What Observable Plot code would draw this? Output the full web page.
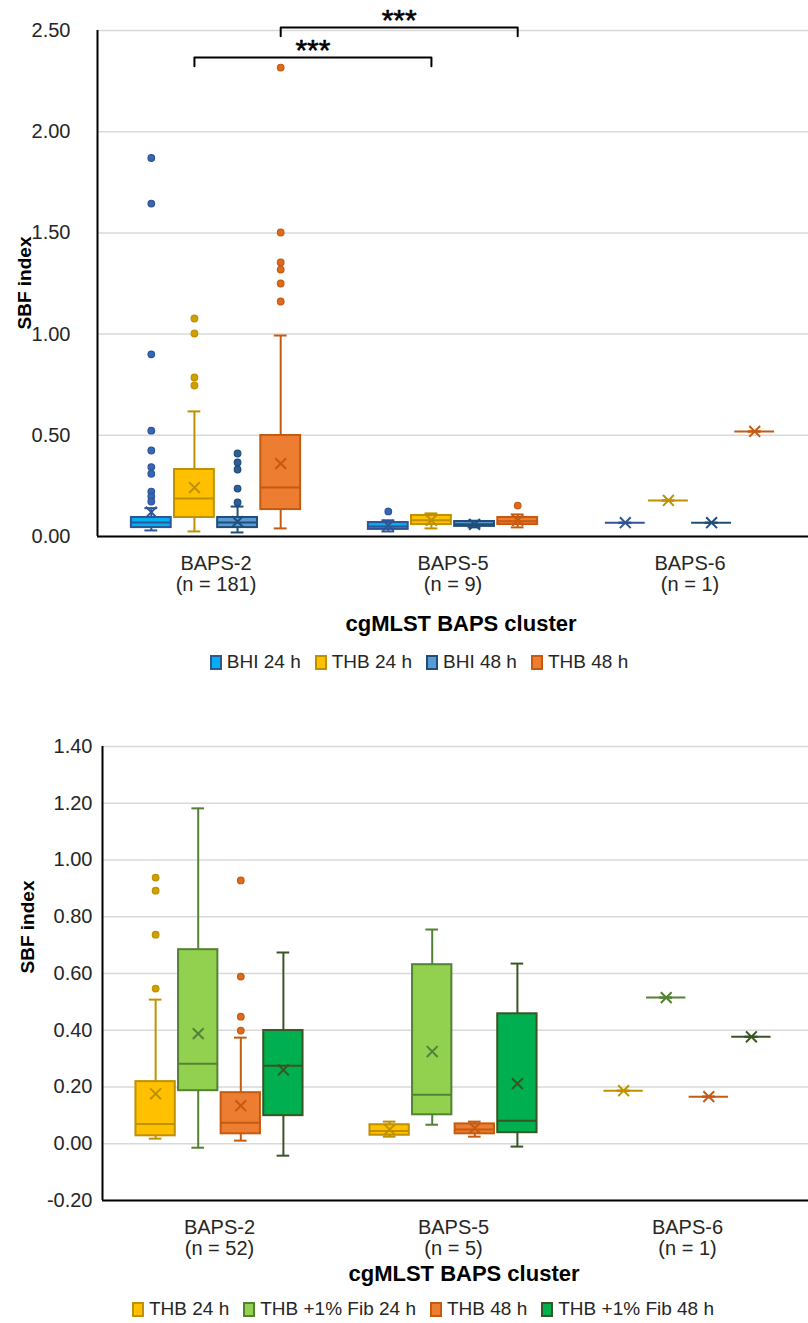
<!DOCTYPE html>
<html>
<head>
<meta charset="utf-8">
<script src="https://cdn.jsdelivr.net/npm/d3@7"></script>
<script src="https://cdn.jsdelivr.net/npm/@observablehq/plot@0.6"></script>
<style>
  body { margin: 0; background: #fff; font-family: "Liberation Sans", Arial, sans-serif; }
  #page { position: relative; width: 808px; height: 1323px; overflow: hidden; background: #fff; }
  .chart { position: absolute; left: 0; }
  .ytitle { position: absolute; transform: translate(-50%, -50%) rotate(-90deg); font-weight: bold;
            font-size: 19px; white-space: nowrap; color: #000; }
  .xtitle { position: absolute; left: 0; width: 808px; text-align: center; font-weight: bold;
            font-size: 22px; line-height: 28px; color: #000; box-sizing: border-box; }
  .legend { position: absolute; left: 0; width: 808px; height: 24px; display: flex; justify-content: center;
            align-items: center; font-size: 19px; color: #262626; box-sizing: border-box; }
  .legend .item { display: flex; align-items: center; margin: 0 7px; }
  .legend .sw { width: 8px; height: 11px; border: 2px solid; margin-right: 5px; }
</style>
</head>
<body>
<div id="page"></div>
<script>
// ---- shared categories -------------------------------------------------------
const clusters = ["BAPS-2", "BAPS-5", "BAPS-6"];

// ---- panel A: BHI / THB, 24 h and 48 h ---------------------------------------
const seriesA = ["BHI 24 h", "THB 24 h", "BHI 48 h", "THB 48 h"];
const countsA = [181, 9, 1];
// one row per cluster, one entry per series
const lowA    = [[0.030, 0.025, 0.020, 0.040], [0.025, 0.040, 0.045, 0.045], [0.068, 0.178, 0.068, 0.519]];
const q1A     = [[0.044, 0.094, 0.044, 0.133], [0.035, 0.059, 0.050, 0.059], [0.068, 0.178, 0.068, 0.519]];
const medianA = [[0.069, 0.188, 0.069, 0.242], [0.050, 0.080, 0.060, 0.075], [0.068, 0.178, 0.068, 0.519]];
const q3A     = [[0.094, 0.331, 0.094, 0.499], [0.069, 0.104, 0.074, 0.094], [0.068, 0.178, 0.068, 0.519]];
const highA   = [[0.140, 0.618, 0.148, 0.993], [0.080, 0.114, 0.078, 0.109], [0.068, 0.178, 0.068, 0.519]];
const meanA   = [[0.120, 0.242, 0.074, 0.360], [0.055, 0.080, 0.060, 0.080], [0.068, 0.178, 0.068, 0.519]];
const outliersA = [
  [[1.870, 1.645, 0.900, 0.523, 0.425, 0.343, 0.310, 0.222, 0.198, 0.173],
   [1.077, 1.003, 0.786, 0.746],
   [0.410, 0.366, 0.331, 0.237, 0.168],
   [2.317, 1.502, 1.354, 1.319, 1.250, 1.161]],
  [[0.124], [], [], [0.153]],
  [[], [], [], []]
];
const ticksA = [0, 0.5, 1, 1.5, 2, 2.5];
// significance brackets between clusters for the same series
const bracketsA = [
  {from: "BAPS-2", to: "BAPS-5", series: "THB 24 h", level: 2.367, label: "***"},
  {from: "BAPS-2", to: "BAPS-5", series: "THB 48 h", level: 2.515, label: "***"}
];

// ---- panel B: THB with and without 1% fibrinogen ------------------------------
const seriesB = ["THB 24 h", "THB +1% Fib 24 h", "THB 48 h", "THB +1% Fib 48 h"];
const countsB = [52, 5, 1];
const lowB    = [[0.018, -0.014, 0.011, -0.042], [0.025, 0.067, 0.025, -0.010], [0.187, 0.515, 0.166, 0.377]];
const q1B     = [[0.028, 0.187, 0.035, 0.099], [0.030, 0.102, 0.035, 0.039], [0.187, 0.515, 0.166, 0.377]];
const medianB = [[0.070, 0.282, 0.074, 0.275], [0.045, 0.173, 0.050, 0.081], [0.187, 0.515, 0.166, 0.377]];
const q3B     = [[0.219, 0.684, 0.180, 0.399], [0.067, 0.631, 0.070, 0.458], [0.187, 0.515, 0.166, 0.377]];
const highB   = [[0.508, 1.182, 0.374, 0.674], [0.078, 0.755, 0.078, 0.635], [0.187, 0.515, 0.166, 0.377]];
const meanB   = [[0.176, 0.388, 0.134, 0.260], [0.050, 0.325, 0.055, 0.212], [0.187, 0.515, 0.166, 0.377]];
const outliersB = [
  [[0.938, 0.892, 0.737, 0.547], [], [0.928, 0.589, 0.448, 0.399], []],
  [[], [], [], []],
  [[], [], [], []]
];
const ticksB = [-0.2, 0, 0.2, 0.4, 0.6, 0.8, 1.0, 1.2, 1.4];

// ---- styles per series --------------------------------------------------------
const palette = {
  "BHI 24 h":          {fill: "#00B0F0", stroke: "#2F5597", dot: "#3566B8"},
  "THB 24 h":          {fill: "#FFC000", stroke: "#BF9000", dot: "#CFA000"},
  "BHI 48 h":          {fill: "#5B9BD5", stroke: "#1F4E79", dot: "#2E5E98"},
  "THB 48 h":          {fill: "#ED7D31", stroke: "#C55A11", dot: "#E06A1C"},
  "THB +1% Fib 24 h":  {fill: "#92D050", stroke: "#548235", dot: "#548235"},
  "THB +1% Fib 48 h":  {fill: "#00B050", stroke: "#375623", dot: "#375623"}
};

// box layout inside one cluster slot (x units: one cluster = 1)
const STEP = 0.182, HALF = 0.084, CAP = 0.027;
const slot = (ci, si, n) => ci + (si - (n - 1) / 2) * STEP;
// two decimals, plain hyphen for negatives
const fmt2 = d => d.toFixed(2);

function buildBoxes(series, low, q1, med, q3, high, mean) {
  const rows = [];
  clusters.forEach((c, ci) => series.forEach((s, si) => rows.push({
    cluster: c, series: s, x: slot(ci, si, series.length),
    lo: low[ci][si], q1: q1[ci][si], med: med[ci][si], q3: q3[ci][si], hi: high[ci][si], mean: mean[ci][si]
  })));
  return rows;
}
function buildOutliers(series, outliers) {
  const rows = [];
  clusters.forEach((c, ci) => series.forEach((s, si) =>
    outliers[ci][si].forEach(v => rows.push({cluster: c, series: s, x: slot(ci, si, series.length), y: v}))));
  return rows;
}

function boxChart({series, boxes, outs, ticks, yDomain, counts, width, height, marginLeft, marginRight,
                   marginTop, marginBottom, xMax, tickPadding, extra = []}) {
  const col = k => d => palette[d.series][k];
  return Plot.plot({
    width, height, marginLeft, marginRight, marginTop, marginBottom,
    style: {fontFamily: "'Liberation Sans', Arial, sans-serif", background: "#fff", overflow: "visible"},
    x: {domain: [-0.5, xMax]},
    y: {domain: yDomain},
    marks: [
      Plot.gridY(ticks, {stroke: "#d9d9d9", strokeOpacity: 1, strokeWidth: 1.5}),
      Plot.axisY(ticks, {tickSize: 0, tickPadding, tickFormat: fmt2, fontSize: 20,
                         fill: "#262626", label: null}),
      Plot.axisX([0, 1, 2], {tickSize: 0, tickPadding: 19, fontSize: 20, lineHeight: 1.05, fill: "#262626",
                             label: null, tickFormat: i => `${clusters[i]}\n(n = ${counts[i]})`}),
      // whiskers and caps
      Plot.ruleX(boxes, {x: "x", y1: "lo", y2: "hi", stroke: col("stroke"), strokeWidth: 2}),
      Plot.ruleY(boxes, {y: "lo", x1: d => d.x - CAP, x2: d => d.x + CAP, stroke: col("stroke"), strokeWidth: 2}),
      Plot.ruleY(boxes, {y: "hi", x1: d => d.x - CAP, x2: d => d.x + CAP, stroke: col("stroke"), strokeWidth: 2}),
      // interquartile boxes
      Plot.rect(boxes, {x1: d => d.x - HALF, x2: d => d.x + HALF, y1: "q1", y2: "q3",
                        fill: col("fill"), stroke: col("stroke"), strokeWidth: 2}),
      // medians
      Plot.ruleY(boxes, {y: "med", x1: d => d.x - HALF, x2: d => d.x + HALF, stroke: col("stroke"), strokeWidth: 2}),
      // means
      Plot.dot(boxes, {x: "x", y: "mean", symbol: "times", r: 5, stroke: col("stroke"), strokeWidth: 2}),
      // outliers
      Plot.dot(outs, {x: "x", y: "y", r: 3.3, fill: col("dot"), stroke: col("stroke"), strokeWidth: 1.2}),
      // axis lines
      Plot.ruleX([-0.5], {stroke: "#000", strokeWidth: 2}),
      Plot.ruleY([yDomain[0]], {stroke: "#000", strokeWidth: 2}),
      ...extra
    ]
  });
}

function legend(series, top, shift) {
  const el = document.createElement("div");
  el.className = "legend";
  el.style.top = top + "px";
  el.style.paddingLeft = shift + "px";
  for (const s of series) {
    const it = document.createElement("span");
    it.className = "item";
    const sw = document.createElement("span");
    sw.className = "sw";
    sw.style.background = palette[s].fill;
    sw.style.borderColor = palette[s].stroke;
    it.appendChild(sw);
    it.appendChild(document.createTextNode(s));
    el.appendChild(it);
  }
  return el;
}
function label(cls, text, styles) {
  const el = document.createElement("div");
  el.className = cls;
  el.textContent = text;
  Object.assign(el.style, styles);
  return el;
}

const page = document.getElementById("page");

// ---- panel A ------------------------------------------------------------------
const boxesA = buildBoxes(seriesA, lowA, q1A, medianA, q3A, highA, meanA);
const outsA = buildOutliers(seriesA, outliersA);
const bx = (c, s) => slot(clusters.indexOf(c), seriesA.indexOf(s), seriesA.length);
const DROP = 0.044;
const bracketPts = bracketsA.flatMap((b, i) => {
  const x1 = bx(b.from, b.series), x2 = bx(b.to, b.series);
  return [
    {id: i, x: x1, y: b.level - DROP}, {id: i, x: x1, y: b.level},
    {id: i, x: x2, y: b.level}, {id: i, x: x2, y: b.level - DROP}
  ];
});
const chartA = boxChart({
  series: seriesA, boxes: boxesA, outs: outsA, ticks: ticksA, yDomain: [0, 2.5], counts: countsA,
  width: 808, height: 600, marginLeft: 97, marginRight: 0, marginTop: 30, marginBottom: 64,
  xMax: 2.5, tickPadding: 27,
  extra: [
    Plot.line(bracketPts, {x: "x", y: "y", z: "id", stroke: "#000", strokeWidth: 2}),
    Plot.text(bracketsA, {x: b => (bx(b.from, b.series) + bx(b.to, b.series)) / 2, y: b => b.level + 0.036,
                          text: "label", fontSize: 30, fill: "#000", stroke: "#000", strokeWidth: 0.6})
  ]
});
chartA.classList.add("chart");
chartA.style.top = "0px";
page.appendChild(chartA);
page.appendChild(label("ytitle", "SBF index", {left: "25px", top: "283px"}));
page.appendChild(label("xtitle", "cgMLST BAPS cluster", {top: "610px", paddingLeft: "114px"}));
page.appendChild(legend(seriesA, 650, 30));

// ---- panel B ------------------------------------------------------------------
const boxesB = buildBoxes(seriesB, lowB, q1B, medianB, q3B, highB, meanB);
const outsB = buildOutliers(seriesB, outliersB);
const chartB = boxChart({
  series: seriesB, boxes: boxesB, outs: outsB, ticks: ticksB, yDomain: [-0.2, 1.4], counts: countsB,
  width: 808, height: 560, marginLeft: 102, marginRight: 0, marginTop: 46, marginBottom: 60,
  xMax: 2.517, tickPadding: 10
});
chartB.classList.add("chart");
chartB.style.top = "700px";
page.appendChild(chartB);
page.appendChild(label("ytitle", "SBF index", {left: "28px", top: "927px"}));
page.appendChild(label("xtitle", "cgMLST BAPS cluster", {top: "1260px", paddingLeft: "120px"}));
page.appendChild(legend(seriesB, 1297, 38));
</script>
</body>
</html>
